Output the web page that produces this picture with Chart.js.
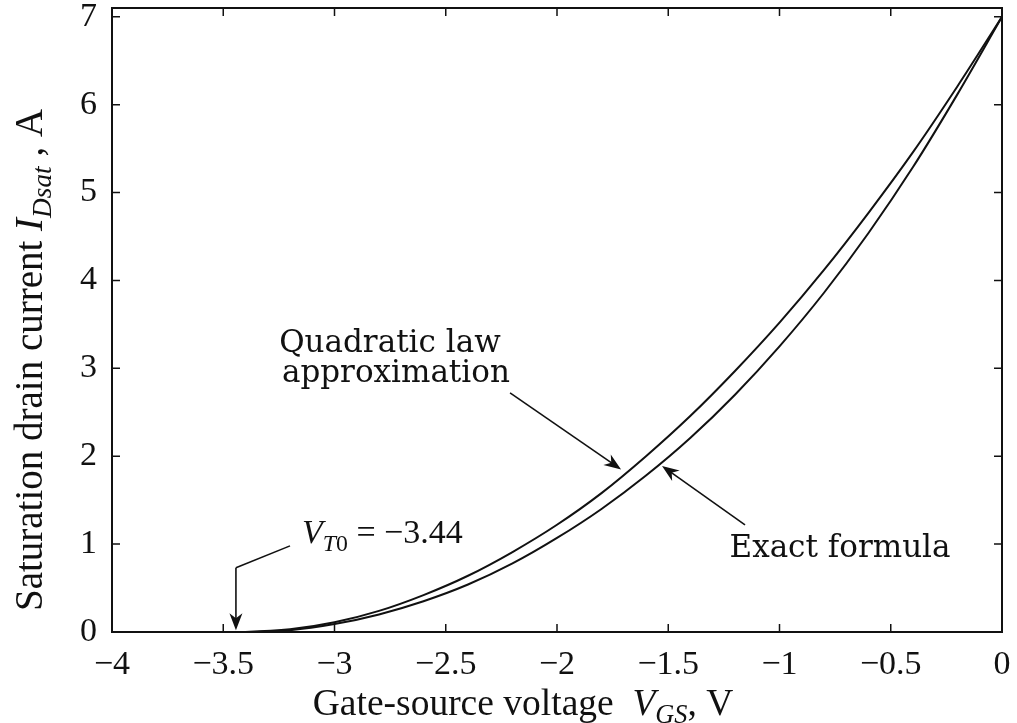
<!DOCTYPE html>
<html>
<head>
<meta charset="utf-8">
<script src="https://cdn.jsdelivr.net/npm/chart.js@4.4.1/dist/chart.umd.min.js"></script>
<style>
  body { margin: 0; background: #fff; }
  #wrap { width: 1017px; height: 723px; }
</style>
</head>
<body>
<div id="wrap"><canvas id="chart" width="1017" height="723"></canvas></div>
<script>
// gate-source voltage, V
const vgs = [-3.44, -3.4, -3.2, -3.0, -2.8, -2.6, -2.4, -2.2, -2.0, -1.8, -1.6, -1.4, -1.2, -1.0, -0.8, -0.6, -0.4, -0.2, 0];
// saturation drain current, A
const idQuadratic = [0, 0.001, 0.03, 0.11, 0.24, 0.42, 0.64, 0.91, 1.22, 1.58, 2.00, 2.46, 2.97, 3.52, 4.12, 4.77, 5.46, 6.21, 7.0];
const idExact     = [0, 0,     0.02, 0.09, 0.20, 0.35, 0.54, 0.78, 1.07, 1.40, 1.78, 2.21, 2.70, 3.25, 3.86, 4.54, 5.29, 6.12, 7.0];

const xTicks = [-4, -3.5, -3, -2.5, -2, -1.5, -1, -0.5, 0];
const xTickLabels = ['\u22124', '\u22123.5', '\u22123', '\u22122.5', '\u22122', '\u22121.5', '\u22121', '\u22120.5', '0'];
const yTicks = [0, 1, 2, 3, 4, 5, 6, 7];

const SERIF = '"Liberation Serif", "Times New Roman", serif';
const NOTE = '"DejaVu Serif", serif';

// draws a list of text runs (italic / subscript) starting at x, baseline y
function runsWidth(ctx, runs, size, family) {
    let w = 0;
    runs.forEach(r => {
        const s = r.sub ? size * 0.7 : size;
        ctx.font = (r.it ? 'italic ' : '') + s + 'px ' + family;
        w += ctx.measureText(r.t).width;
    });
    return w;
}
function drawRuns(ctx, runs, x, y, size, family, align) {
    let cx = x;
    if (align === 'center') cx = x - runsWidth(ctx, runs, size, family) / 2;
    ctx.textAlign = 'left';
    ctx.textBaseline = 'alphabetic';
    runs.forEach(r => {
        const s = r.sub ? size * 0.7 : size;
        ctx.font = (r.it ? 'italic ' : '') + s + 'px ' + family;
        ctx.fillText(r.t, cx, r.sub ? y + size * 0.22 : y);
        cx += ctx.measureText(r.t).width;
    });
}

function arrow(ctx, x1, y1, x2, y2) {
    const a = Math.atan2(y2 - y1, x2 - x1);
    const len = 17, hw = 6.5;
    ctx.beginPath();
    ctx.moveTo(x1, y1);
    ctx.lineTo(x2 - Math.cos(a) * len * 0.6, y2 - Math.sin(a) * len * 0.6);
    ctx.stroke();
    ctx.beginPath();
    ctx.moveTo(x2, y2);
    ctx.lineTo(x2 - Math.cos(a) * len - Math.sin(a) * hw, y2 - Math.sin(a) * len + Math.cos(a) * hw);
    ctx.lineTo(x2 - Math.cos(a) * len * 0.7, y2 - Math.sin(a) * len * 0.7);
    ctx.lineTo(x2 - Math.cos(a) * len + Math.sin(a) * hw, y2 - Math.sin(a) * len - Math.cos(a) * hw);
    ctx.closePath();
    ctx.fill();
}

const decorations = {
    id: 'decorations',
    afterDraw(chart) {
        const { ctx, chartArea: ca, scales: { x, y } } = chart;
        const px = v => x.getPixelForValue(v);
        const py = v => y.getPixelForValue(v);
        ctx.save();
        ctx.strokeStyle = '#111';
        ctx.fillStyle = '#111';

        // frame
        ctx.lineWidth = 2;
        ctx.strokeRect(ca.left, ca.top, ca.right - ca.left, ca.bottom - ca.top);

        // inward ticks on all four sides
        ctx.lineWidth = 1.5;
        ctx.beginPath();
        xTicks.slice(1, -1).forEach(v => {
            const p = px(v);
            ctx.moveTo(p, ca.bottom); ctx.lineTo(p, ca.bottom - 8);
            ctx.moveTo(p, ca.top); ctx.lineTo(p, ca.top + 8);
        });
        yTicks.slice(1).forEach(v => {
            const p = py(v);
            ctx.moveTo(ca.left, p); ctx.lineTo(ca.left + 8, p);
            ctx.moveTo(ca.right, p); ctx.lineTo(ca.right - 8, p);
        });
        ctx.stroke();

        // annotations
        ctx.lineWidth = 1.6;
        drawRuns(ctx, [{ t: 'Quadratic law' }], px(-2.751), py(3.19), 31, NOTE, 'center');
        drawRuns(ctx, [{ t: 'approximation' }], px(-2.724), py(2.84), 31, NOTE, 'center');
        arrow(ctx, px(-2.211), py(2.72), px(-1.712), py(1.85));

        drawRuns(ctx, [{ t: 'Exact formula' }], px(-0.728), py(0.85), 31, NOTE, 'center');
        arrow(ctx, px(-1.155), py(1.22), px(-1.528), py(1.89));

        drawRuns(ctx, [{ t: 'V', it: true }, { t: 'T', it: true, sub: true }, { t: '0', sub: true }, { t: ' = \u22123.44' }],
            px(-3.146), py(1.01), 34, SERIF, 'left');
        ctx.beginPath();
        ctx.moveTo(px(-3.2), py(0.98));
        ctx.lineTo(px(-3.443), py(0.73));
        ctx.stroke();
        arrow(ctx, px(-3.443), py(0.73), px(-3.443), py(0.02));

        // axis titles
        drawRuns(ctx, [{ t: 'Gate-source voltage  ' }, { t: 'V', it: true }, { t: 'GS', it: true, sub: true }, { t: ', V' }],
            523, 715, 37.5, SERIF, 'center');

        ctx.save();
        ctx.translate(42, 360);
        ctx.rotate(-Math.PI / 2);
        drawRuns(ctx, [{ t: 'Saturation drain current ' }, { t: 'I', it: true }, { t: 'Dsat', it: true, sub: true }, { t: ' , A' }],
            0, 0, 39, SERIF, 'center');
        ctx.restore();

        ctx.restore();
    }
};

const lineStyle = {
    borderColor: '#111',
    borderWidth: 2,
    pointRadius: 0,
    fill: false,
    cubicInterpolationMode: 'monotone'
};

new Chart(document.getElementById('chart'), {
    type: 'line',
    data: {
        datasets: [
            { label: 'Quadratic law approximation', data: vgs.map((v, i) => ({ x: v, y: idQuadratic[i] })), ...lineStyle },
            { label: 'Exact formula', data: vgs.map((v, i) => ({ x: v, y: idExact[i] })), ...lineStyle }
        ]
    },
    options: {
        responsive: false,
        animation: false,
        layout: { padding: { top: 8, right: 15, left: 0, bottom: 0 } },
        plugins: { legend: { display: false }, tooltip: { enabled: false } },
        scales: {
            x: {
                type: 'linear',
                min: -4,
                max: 0,
                grid: { display: false, drawTicks: false },
                border: { display: false },
                ticks: {
                    stepSize: 0.5,
                    padding: 13,
                    color: '#111',
                    font: { family: SERIF, size: 34 },
                    callback: v => {
                        const i = xTicks.findIndex(t => Math.abs(t - v) < 1e-6);
                        return i >= 0 ? xTickLabels[i] : '';
                    }
                },
                afterFit: s => { s.height = 91; s.paddingLeft = 0; s.paddingRight = 0; }
            },
            y: {
                min: 0,
                max: 7.1,
                grid: { display: false, drawTicks: false },
                border: { display: false },
                ticks: {
                    stepSize: 1,
                    includeBounds: false,
                    padding: 15,
                    color: '#111',
                    font: { family: SERIF, size: 34 }
                },
                afterFit: s => { s.width = 112; s.paddingTop = 0; s.paddingBottom = 0; }
            }
        }
    },
    plugins: [decorations]
});
</script>
</body>
</html>
